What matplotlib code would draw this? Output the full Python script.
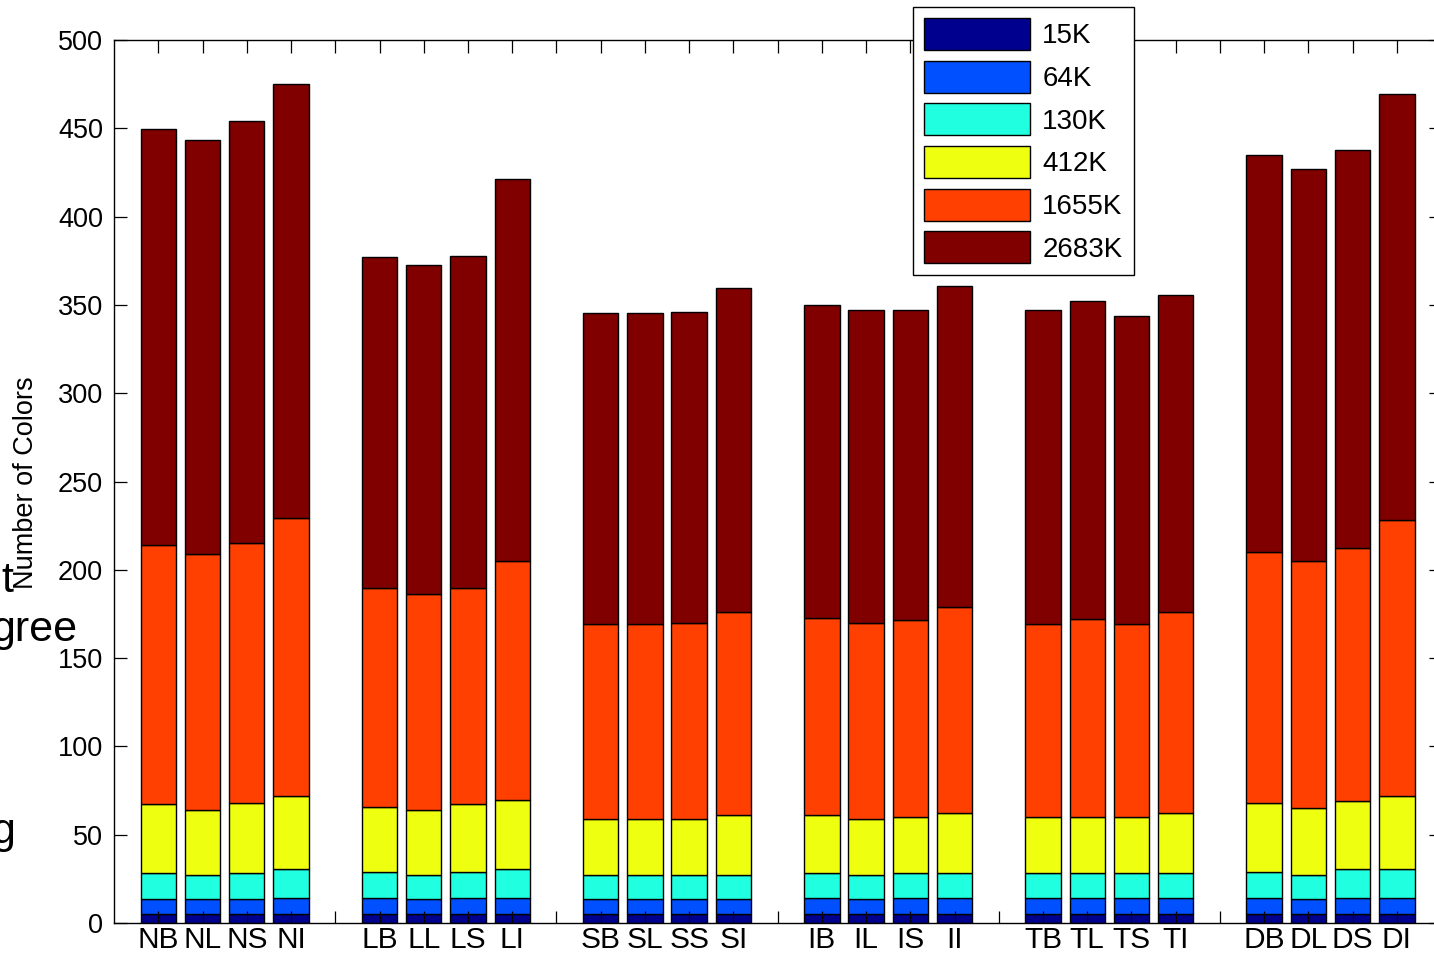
import numpy as np
import matplotlib
matplotlib.use("Agg")
import matplotlib.pyplot as plt

plt.rcParams['font.family'] = ['Liberation Sans', 'DejaVu Sans']

# bar labels, 6 groups of 4
groups = [["NB", "NL", "NS", "NI"],
          ["LB", "LL", "LS", "LI"],
          ["SB", "SL", "SS", "SI"],
          ["IB", "IL", "IS", "II"],
          ["TB", "TL", "TS", "TI"],
          ["DB", "DL", "DS", "DI"]]

sizes = ["15K", "64K", "130K", "412K", "1655K", "2683K"]
colors = ["#00008F", "#0050FF", "#20FFDF", "#EEFF10", "#FF4000", "#800000"]

# cumulative number of colors up to each image size, one entry per bar
top_15k = [5, 5, 5, 5, 5, 5, 5, 5, 5, 5, 5, 5,
           5, 5, 5, 5, 5, 5, 5, 5, 5, 5, 5, 5]
top_64k = [13.5, 13.5, 13.5, 14, 14, 13.5, 14, 14, 13.5, 13.5, 13.5, 13.5,
           14, 13.5, 14, 14, 14, 14, 14, 14, 14, 13.5, 14, 14]
top_130k = [28.3, 26.9, 28.5, 30.4, 29.1, 27, 29.1, 30.4, 27, 27, 27, 27,
            28.3, 27, 28.3, 28.3, 28.3, 28.3, 28.3, 28.3, 29.1, 27, 30.4, 30.4]
top_412k = [67.2, 63.8, 67.8, 72.1, 65.9, 63.8, 67.2, 69.8, 58.9, 58.9, 58.9, 61.2,
            61.2, 58.9, 60.2, 62.5, 60.2, 60.2, 60.2, 62.5, 67.8, 64.9, 69.1, 72.1]
top_1655k = [214.2, 208.8, 215, 229.3, 189.7, 186.3, 189.7, 204.8, 169.3, 169.3, 170, 176.1,
             172.9, 170, 171.6, 179.1, 169.3, 172.1, 169.3, 176.3, 210.3, 205, 212.3, 228]
top_2683k = [449.6, 443.4, 454.3, 475.3, 377.3, 372.6, 377.9, 421.5, 345.2, 345.2, 346, 359.6,
             350.1, 347.3, 347.3, 360.9, 347.3, 352, 343.7, 355.4, 435.1, 427, 437.7, 469.2]

levels = [top_15k, top_64k, top_130k, top_412k, top_1655k, top_2683k]

# x positions: one empty slot between groups
xpos = []
labels = []
for g, names in enumerate(groups):
    for j, name in enumerate(names):
        xpos.append(5 * g + j + 1)
        labels.append(name)
xpos = np.array(xpos)

W, H = 1434, 957
fig = plt.figure(figsize=(W / 100, H / 100), dpi=100)
ax = fig.add_axes([114.1 / W, 34 / H, 1327 / W, 883 / H])

bottom = np.zeros(len(xpos))
handles = []
for lev, col, lab in zip(levels, colors, sizes):
    lev = np.array(lev, dtype=float)
    b = ax.bar(xpos, lev - bottom, bottom=bottom, width=0.8, color=col,
               edgecolor="black", linewidth=1.0, label=lab)
    handles.append(b)
    bottom = lev

ax.set_xlim(0, 30)
ax.set_ylim(0, 500)
ax.set_yticks(np.arange(0, 501, 50))
ticks = np.arange(1, 30)
ax.set_xticks(ticks)
tick_text = {p: l for p, l in zip(xpos, labels)}
ax.set_xticklabels([tick_text.get(t, "") for t in ticks])

ax.tick_params(axis="both", direction="in", length=9, width=0.9,
               top=True, right=True, color="black")
ax.tick_params(axis="x", labelsize=21.5, pad=2.5)
ax.tick_params(axis="y", labelsize=19.5, pad=8)
for s in ax.spines.values():
    s.set_linewidth(1.0)
    s.set_color("black")

fig.text(26 / W, 1 - 483 / H, "Number of Colors", rotation=90,
         ha="center", va="center", fontsize=19.5)

leg = fig.legend(handles=handles, labels=sizes, loc="upper left",
                 bbox_to_anchor=(913 / W, 1 - 7 / H), bbox_transform=fig.transFigure,
                 borderaxespad=0, fontsize=20, handlelength=3.8, handleheight=1.4,
                 labelspacing=0.38, handletextpad=0.45, borderpad=0.4,
                 fancybox=False, framealpha=1, edgecolor="black")
leg.get_frame().set_linewidth(1.0)

# bits of neighbouring slide text at the left edge
fig.text(13 / W, 1 - 592 / H, "t", ha="right", va="baseline", fontsize=31)
fig.text(-9 / W, 1 - 641 / H, "gree", ha="left", va="baseline", fontsize=31)
fig.text(-9 / W, 1 - 843 / H, "g", ha="left", va="baseline", fontsize=31)

fig.savefig("out.png", dpi=100)
